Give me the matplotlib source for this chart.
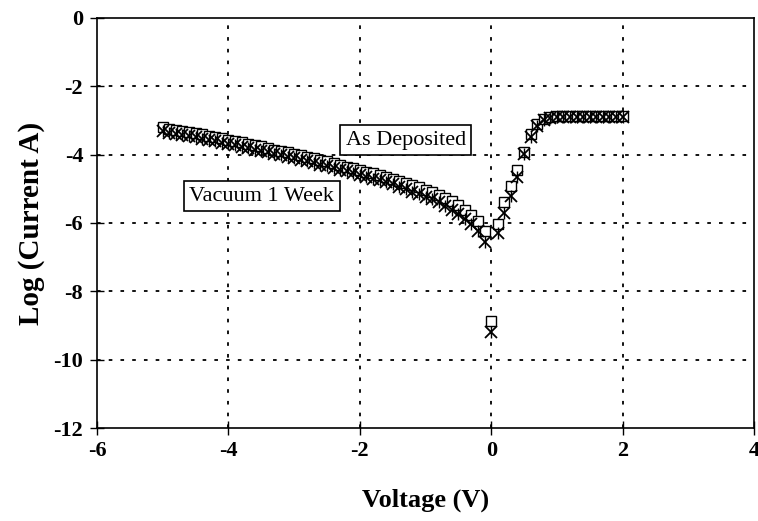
import numpy as np
import matplotlib
matplotlib.use("Agg")
import matplotlib.pyplot as plt

# Voltage sweep (V)
voltage = [-5.0, -4.9, -4.8, -4.7, -4.6, -4.5, -4.4, -4.3, -4.2, -4.1,
           -4.0, -3.9, -3.8, -3.7, -3.6, -3.5, -3.4, -3.3, -3.2, -3.1,
           -3.0, -2.9, -2.8, -2.7, -2.6, -2.5, -2.4, -2.3, -2.2, -2.1,
           -2.0, -1.9, -1.8, -1.7, -1.6, -1.5, -1.4, -1.3, -1.2, -1.1,
           -1.0, -0.9, -0.8, -0.7, -0.6, -0.5, -0.4, -0.3, -0.2, -0.1,
           0.0, 0.1, 0.2, 0.3, 0.4, 0.5, 0.6, 0.7, 0.8, 0.9,
           1.0, 1.1, 1.2, 1.3, 1.4, 1.5, 1.6, 1.7, 1.8, 1.9, 2.0]

# log(current) as deposited (squares)
as_deposited = [-3.20, -3.24, -3.27, -3.30, -3.33, -3.37, -3.40, -3.44, -3.48, -3.52,
                -3.56, -3.60, -3.64, -3.68, -3.72, -3.76, -3.80, -3.85, -3.89, -3.93,
                -3.98, -4.02, -4.07, -4.11, -4.16, -4.20, -4.25, -4.30, -4.35, -4.40,
                -4.45, -4.50, -4.55, -4.60, -4.65, -4.71, -4.77, -4.83, -4.89, -4.96,
                -5.03, -5.10, -5.18, -5.27, -5.37, -5.48, -5.61, -5.76, -5.94, -6.22,
                -8.88, -6.04, -5.40, -4.93, -4.45, -3.92, -3.40, -3.10, -2.96, -2.90,
                -2.88, -2.88, -2.87, -2.88, -2.88, -2.87, -2.88, -2.88, -2.87, -2.88, -2.88]

# log(current) after 1 week in vacuum (stars)
vacuum_1wk = [-3.32, -3.36, -3.39, -3.42, -3.46, -3.49, -3.53, -3.57, -3.61, -3.65,
              -3.69, -3.73, -3.77, -3.81, -3.85, -3.89, -3.93, -3.98, -4.02, -4.06,
              -4.11, -4.15, -4.20, -4.24, -4.29, -4.34, -4.39, -4.44, -4.49, -4.54,
              -4.59, -4.64, -4.70, -4.75, -4.81, -4.87, -4.94, -5.01, -5.08, -5.15,
              -5.23, -5.31, -5.40, -5.50, -5.61, -5.73, -5.87, -6.03, -6.22, -6.56,
              -9.20, -6.28, -5.70, -5.20, -4.64, -3.99, -3.48, -3.15, -2.98, -2.92,
              -2.90, -2.90, -2.89, -2.90, -2.90, -2.89, -2.90, -2.90, -2.89, -2.90, -2.90]

xticks = [-6, -4, -2, 0, 2, 4]
yticks = [0, -2, -4, -6, -8, -10, -12]

serif = ["Liberation Serif", "DejaVu Serif"]
plt.rcParams["font.family"] = serif

fig = plt.figure(figsize=(7.58, 5.21), dpi=100)
ax = fig.add_axes([0.128, 0.1785, 0.8667, 0.787])

ax.plot(voltage, as_deposited, linestyle="none", marker="s", markersize=7,
        markerfacecolor="white", markeredgecolor="black", markeredgewidth=1.0, zorder=3)
ax.plot(voltage, vacuum_1wk, linestyle="none", marker="x", markersize=8,
        color="black", markeredgewidth=1.3, zorder=4)
ax.plot(voltage, vacuum_1wk, linestyle="none", marker="|", markersize=9,
        color="black", markeredgewidth=1.0, zorder=4)

ax.set_xlim(-6, 4)
ax.set_ylim(-12, 0)
ax.set_xticks(xticks)
ax.set_yticks(yticks)
ax.set_xticklabels([str(t) for t in xticks], fontsize=16, fontweight="bold")
ax.set_yticklabels([str(t) for t in yticks], fontsize=16, fontweight="bold")
ax.tick_params(direction="inout", length=10, width=1)
ax.tick_params(axis="x", pad=4)
ax.tick_params(axis="y", pad=5)

for v in xticks[1:-1]:
    ax.axvline(v, color="black", linestyle=(0, (2, 4.5)), linewidth=1.3, zorder=1)
for v in yticks[1:-1]:
    ax.axhline(v, color="black", linestyle=(0, (2, 4.5)), linewidth=1.3, zorder=1)

for s in ax.spines.values():
    s.set_linewidth(1.2)

ax.set_xlabel("Voltage (V)", fontsize=19, fontweight="bold", labelpad=20)
ax.set_ylabel("Log (Current A)", fontsize=21, fontweight="bold", labelpad=6)

box = dict(boxstyle="square,pad=0.25", facecolor="white", edgecolor="black", linewidth=1.2)
ax.text(-1.30, -3.58, "As Deposited", fontsize=16, ha="center", va="center", bbox=box, zorder=5)
ax.text(-3.49, -5.22, "Vacuum 1 Week", fontsize=16, ha="center", va="center", bbox=box, zorder=5)

fig.savefig("out.png", dpi=100)
